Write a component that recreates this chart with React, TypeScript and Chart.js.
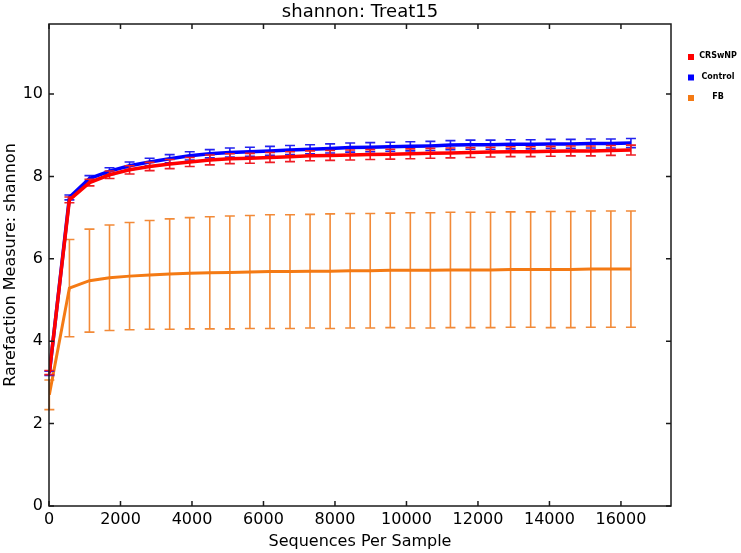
import React, { useEffect, useRef } from "react";
import { Chart, registerables } from "chart.js";

Chart.register(...registerables);

const depths = [10, 571, 1132, 1693, 2254, 2815, 3376, 3937, 4498, 5059, 5620, 6181, 6742, 7303, 7864, 8425, 8986, 9547, 10108, 10669, 11230, 11791, 12352, 12913, 13474, 14035, 14596, 15157, 15718, 16279];

const crswnpMean = [3.24, 7.43, 7.85, 8.04, 8.16, 8.24, 8.30, 8.35, 8.40, 8.43, 8.44, 8.46, 8.48, 8.50, 8.51, 8.52, 8.53, 8.54, 8.55, 8.56, 8.57, 8.58, 8.59, 8.60, 8.60, 8.61, 8.62, 8.62, 8.63, 8.64];
const crswnpErr = [0.05, 0.07, 0.08, 0.09, 0.10, 0.10, 0.11, 0.11, 0.12, 0.12, 0.12, 0.12, 0.12, 0.12, 0.12, 0.12, 0.12, 0.12, 0.12, 0.12, 0.12, 0.12, 0.12, 0.12, 0.12, 0.12, 0.12, 0.12, 0.12, 0.12];

const controlMean = [3.22, 7.49, 7.95, 8.13, 8.26, 8.35, 8.43, 8.50, 8.55, 8.58, 8.60, 8.62, 8.64, 8.66, 8.68, 8.70, 8.71, 8.72, 8.73, 8.74, 8.76, 8.77, 8.77, 8.78, 8.78, 8.79, 8.79, 8.80, 8.80, 8.81];
const controlErr = [0.05, 0.06, 0.07, 0.08, 0.09, 0.09, 0.10, 0.10, 0.10, 0.11, 0.11, 0.11, 0.11, 0.11, 0.11, 0.11, 0.11, 0.11, 0.11, 0.11, 0.11, 0.11, 0.11, 0.11, 0.11, 0.11, 0.11, 0.11, 0.11, 0.11];

const fbMean = [2.70, 5.29, 5.47, 5.54, 5.58, 5.61, 5.63, 5.65, 5.66, 5.67, 5.68, 5.69, 5.69, 5.70, 5.70, 5.71, 5.71, 5.72, 5.72, 5.72, 5.73, 5.73, 5.73, 5.74, 5.74, 5.74, 5.74, 5.75, 5.75, 5.75];
const fbErr = [0.36, 1.18, 1.25, 1.28, 1.30, 1.32, 1.34, 1.35, 1.36, 1.37, 1.37, 1.38, 1.38, 1.38, 1.39, 1.39, 1.39, 1.39, 1.40, 1.40, 1.40, 1.40, 1.40, 1.40, 1.40, 1.41, 1.41, 1.41, 1.41, 1.41];

const xTickValues = [0, 2000, 4000, 6000, 8000, 10000, 12000, 14000, 16000];
const yTickValues = [0, 2, 4, 6, 8, 10];

const seriesLabels = ["CRSwNP", "Control", "FB"];
const lineColors = ["#ff0000", "#0000ff", "#f47a14"];
const barColors = ["#ee1c24", "#2222f0", "#f28a38"];

const titleText = "shannon: Treat15";
const xTitle = "Sequences Per Sample";
const yTitle = "Rarefaction Measure: shannon";

const FONT = "'DejaVu Sans', sans-serif";

export default function App() {
  const ref = useRef<HTMLCanvasElement | null>(null);

  useEffect(() => {
    if (!ref.current) return;
    const means = [crswnpMean, controlMean, fbMean];
    const errs = [crswnpErr, controlErr, fbErr];

    const datasets = seriesLabels.map((label, i) => ({
      label,
      data: depths.map((d, j) => ({ x: d, y: means[i][j] })),
      borderColor: lineColors[i],
      backgroundColor: lineColors[i],
      borderWidth: i === 2 ? 3 : 3.5,
      pointRadius: 0,
      tension: 0,
      errs: errs[i],
      barColor: barColors[i],
    }));

    const errorBars = {
      id: "errorBars",
      beforeDatasetDraw(chart: any, args: any) {
        const ds = chart.data.datasets[args.index];
        const xs = chart.scales.x;
        const ys = chart.scales.y;
        const ctx = chart.ctx;
        ctx.save();
        ctx.strokeStyle = ds.barColor;
        ctx.lineWidth = 1.6;
        depths.forEach((d, j) => {
          const m = ds.data[j].y;
          const e = ds.errs[j];
          const px = xs.getPixelForValue(d);
          const y1 = ys.getPixelForValue(m + e);
          const y2 = ys.getPixelForValue(m - e);
          ctx.beginPath();
          ctx.moveTo(px, y1);
          ctx.lineTo(px, y2);
          ctx.moveTo(px - 5, y1);
          ctx.lineTo(px + 5, y1);
          ctx.moveTo(px - 5, y2);
          ctx.lineTo(px + 5, y2);
          ctx.stroke();
        });
        ctx.restore();
      },
    };

    const frame = {
      id: "frame",
      afterDraw(chart: any) {
        const { ctx, chartArea: a } = chart;
        const xs = chart.scales.x;
        const ys = chart.scales.y;
        ctx.save();
        ctx.strokeStyle = "#1a1a1a";
        ctx.lineWidth = 1.5;
        ctx.strokeRect(a.left, a.top, a.right - a.left, a.bottom - a.top);
        ctx.beginPath();
        xs.ticks.forEach((t: any) => {
          const px = xs.getPixelForValue(t.value);
          ctx.moveTo(px, a.bottom);
          ctx.lineTo(px, a.bottom - 5);
          ctx.moveTo(px, a.top);
          ctx.lineTo(px, a.top + 5);
        });
        ys.ticks.forEach((t: any) => {
          const py = ys.getPixelForValue(t.value);
          ctx.moveTo(a.left, py);
          ctx.lineTo(a.left + 5, py);
          ctx.moveTo(a.right, py);
          ctx.lineTo(a.right - 5, py);
        });
        ctx.stroke();

        ctx.fillStyle = "#000";
        ctx.font = `18px ${FONT}`;
        ctx.textAlign = "center";
        ctx.textBaseline = "middle";
        ctx.fillText(titleText, (a.left + a.right) / 2, 12);

        ctx.font = `bold 8px ${FONT}`;
        seriesLabels.forEach((lab, i) => {
          const cy = 57 + i * 20.5;
          ctx.fillStyle = lineColors[i];
          ctx.fillRect(688, cy - 3, 6, 6);
          ctx.fillStyle = "#000";
          ctx.textAlign = "center";
          ctx.fillText(lab, 718, cy - 1);
        });
        ctx.restore();
      },
    };

    const chart = new Chart(ref.current, {
      type: "line",
      data: { datasets: datasets as any },
      options: {
        animation: false,
        responsive: false,
        maintainAspectRatio: false,
        layout: { padding: { top: 24, right: 70, left: 0, bottom: 0 } },
        plugins: {
          legend: { display: false },
          title: { display: false },
          tooltip: { enabled: false },
        },
        scales: {
          x: {
            type: "linear",
            min: 0,
            max: 17400,
            grid: { display: false, drawTicks: false },
            border: { display: false },
            afterBuildTicks(scale: any) {
              scale.ticks = xTickValues.map((v) => ({ value: v }));
            },
            ticks: {
              maxRotation: 0,
              autoSkip: false,
              padding: 4,
              color: "#000",
              font: { family: FONT, size: 16 },
              callback: (v: any) => String(v),
            },
            title: {
              display: true,
              text: xTitle,
              color: "#000",
              font: { family: FONT, size: 16 },
              padding: { top: 0, bottom: 2 },
            },
            afterFit(scale: any) {
              scale.height = 47;
            },
          },
          y: {
            type: "linear",
            min: 0,
            max: 11.7,
            grid: { display: false, drawTicks: false },
            border: { display: false },
            afterBuildTicks(scale: any) {
              scale.ticks = yTickValues.map((v) => ({ value: v }));
            },
            ticks: {
              padding: 6,
              color: "#000",
              font: { family: FONT, size: 16 },
              callback: (v: any) => String(v),
            },
            title: {
              display: true,
              text: yTitle,
              color: "#000",
              font: { family: FONT, size: 16 },
              padding: { top: 1.5, bottom: 0 },
            },
            afterFit(scale: any) {
              scale.width = 49;
            },
          },
        },
      } as any,
      plugins: [errorBars, frame],
    });
    return () => chart.destroy();
  }, []);

  return (
    <div style={{ position: "fixed", left: 0, top: 0, width: 741, height: 553, background: "#fff" }}>
      <canvas ref={ref} width={741} height={553} style={{ display: "block" }} />
    </div>
  );
}
